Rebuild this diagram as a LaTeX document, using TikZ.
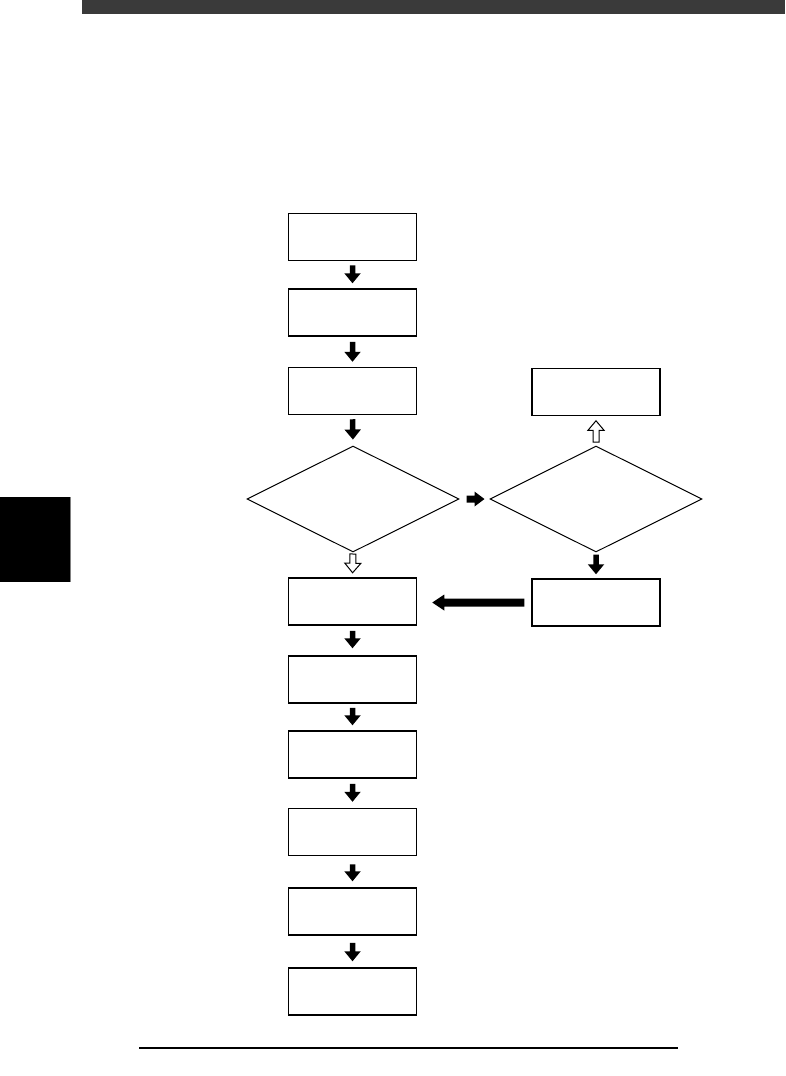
\documentclass[tikz,border=0pt]{standalone}
\usetikzlibrary{shapes.geometric,calc}
\definecolor{bargray}{HTML}{3A3A3A}
\tikzset{
  box/.style={draw, line width=1.5pt, minimum width=128pt, minimum height=47pt, inner sep=0pt},
  dia/.style={draw, diamond, line width=1pt, minimum width=212pt, minimum height=106pt, inner sep=0pt},
  % block arrow: #1 start gap, #2 end gap, #3 shaft width, #4 head width, #5 head length
  blockarr/.style n args={5}{to path={
    let \p1=($(\tikztostart)!#1!(\tikztotarget)$),
        \p2=($(\tikztotarget)!#2!(\tikztostart)$),
        \n1={atan2(\y2-\y1,\x2-\x1)},
        \n2={veclen(\x2-\x1,\y2-\y1)} in
    ([shift={(\p1)},rotate=\n1]0pt,#3/2)
    -- ([shift={(\p1)},rotate=\n1]\n2-#5,#3/2)
    -- ([shift={(\p1)},rotate=\n1]\n2-#5,#4/2)
    -- (\p2)
    -- ([shift={(\p1)},rotate=\n1]\n2-#5,-#4/2)
    -- ([shift={(\p1)},rotate=\n1]\n2-#5,-#3/2)
    -- ([shift={(\p1)},rotate=\n1]0pt,-#3/2) -- cycle}},
  solidarr/.style={fill=black, draw=none},
  hollowarr/.style={fill=white, draw=black, line width=1pt, line join=miter},
}
\begin{document}
\begin{tikzpicture}[x=1pt,y=-1pt]
\useasboundingbox[fill=white] (0,0) rectangle (785,1076);
% header bar and side tab
\fill[bargray] (82,0) rectangle (785,14);
\fill[black] (0,497) rectangle (70,582);
\draw[gray, line width=0.8pt] (70,497) -- (70,582);
% footer rule
\draw[line width=1.2pt] (139,1048) -- (678,1048);
% left column
\node[box] (b1) at (352.5,237) {};
\node[box] (b2) at (352.5,312.5) {};
\node[box] (b3) at (352.5,391) {};
\node[dia] (d1) at (353,499) {};
\node[box] (b4) at (352.5,601.5) {};
\node[box] (b5) at (352.5,679.5) {};
\node[box] (b6) at (352.5,754.5) {};
\node[box] (b7) at (352.5,832) {};
\node[box] (b8) at (352.5,911.5) {};
\node[box] (b9) at (352.5,991.5) {};
% right column
\node[box] (tr) at (596,392) {};
\node[dia] (d2) at (596,499) {};
\node[box] (rb) at (596,602.5) {};
% arrows
\path[solidarr] (b1.south) to[blockarr={4pt}{5pt}{5.5pt}{16.5pt}{10pt}] (b2.north);
\path[solidarr] (b2.south) to[blockarr={5pt}{5pt}{5.5pt}{16.5pt}{10pt}] (b3.north);
\path[solidarr] (b3.south) to[blockarr={4pt}{6pt}{5.5pt}{16.5pt}{10pt}] (d1.north);
\path[solidarr] (d1.east) to[blockarr={7pt}{5pt}{7pt}{15pt}{10pt}] (d2.west);
\path[hollowarr] (d1.south) to[blockarr={1.5pt}{4.5pt}{6pt}{16pt}{9.5pt}] (b4.north);
\path[hollowarr] (d2.north) to[blockarr={3.5pt}{4.5pt}{6pt}{16pt}{9.5pt}] (tr.south);
\path[solidarr] (d2.south) to[blockarr={2pt}{4pt}{5.5pt}{16.5pt}{10pt}] (rb.north);
\path[solidarr] (rb.west) to[blockarr={7pt}{15pt}{8pt}{16pt}{12pt}] (b4.east |- rb.west);
\path[solidarr] (b4.south) to[blockarr={5pt}{7pt}{5.5pt}{16.5pt}{10pt}] (b5.north);
\path[solidarr] (b5.south) to[blockarr={4pt}{5pt}{5.5pt}{16.5pt}{10pt}] (b6.north);
\path[solidarr] (b6.south) to[blockarr={5pt}{6pt}{5.5pt}{16.5pt}{10pt}] (b7.north);
\path[solidarr] (b7.south) to[blockarr={8pt}{6pt}{5.5pt}{16.5pt}{10pt}] (b8.north);
\path[solidarr] (b8.south) to[blockarr={7pt}{6pt}{5.5pt}{16.5pt}{10pt}] (b9.north);
\end{tikzpicture}
\end{document}
